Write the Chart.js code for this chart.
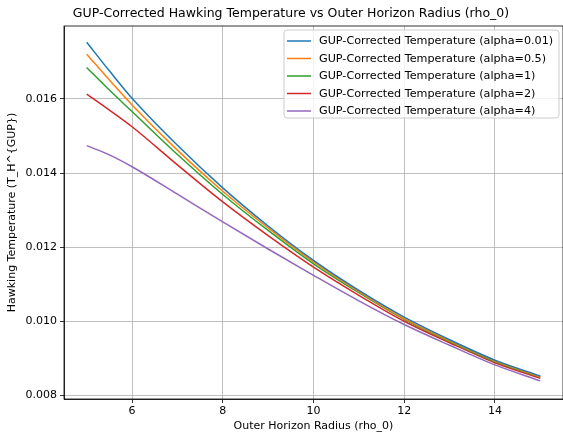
<!DOCTYPE html>
<html>
<head>
<meta charset="utf-8">
<script src="https://cdn.jsdelivr.net/npm/chart.js@4"></script>
<style>
  html, body { margin: 0; padding: 0; background: #fff; }
  #wrap { width: 563px; height: 434px; position: relative; }
</style>
</head>
<body>
<div id="wrap"><canvas id="chart"></canvas></div>
<script>
const radius = [5, 5.5, 6, 7, 8, 9, 10, 11, 12, 13, 14, 15]
const tempAlpha001 = [0.01753, 0.01676, 0.01602, 0.01475, 0.01360, 0.01257, 0.01164, 0.01083, 0.01011, 0.00950, 0.00895, 0.00852]
const tempAlpha05 = [0.01721, 0.01651, 0.01584, 0.01462, 0.01351, 0.01252, 0.01160, 0.01080, 0.01007, 0.00947, 0.00893, 0.00850]
const tempAlpha1 = [0.01685, 0.01624, 0.01566, 0.01450, 0.01342, 0.01245, 0.01155, 0.01077, 0.01005, 0.00945, 0.00891, 0.00849]
const tempAlpha2 = [0.01613, 0.01570, 0.01525, 0.01422, 0.01322, 0.01231, 0.01146, 0.01070, 0.01000, 0.00942, 0.00888, 0.00846]
const tempAlpha4 = [0.01474, 0.01449, 0.01417, 0.01343, 0.01268, 0.01195, 0.01124, 0.01055, 0.00991, 0.00935, 0.00882, 0.00839]
const xTicks = [6, 8, 10, 12, 14]
const yTicks = [0.008, 0.010, 0.012, 0.014, 0.016]

const seriesLabels = [
  "GUP-Corrected Temperature (alpha=0.01)",
  "GUP-Corrected Temperature (alpha=0.5)",
  "GUP-Corrected Temperature (alpha=1)",
  "GUP-Corrected Temperature (alpha=2)",
  "GUP-Corrected Temperature (alpha=4)"
]
const seriesValues = [tempAlpha001, tempAlpha05, tempAlpha1, tempAlpha2, tempAlpha4]
const colors = ["#1f77b4", "#ff7f0e", "#2ca02c", "#d62728", "#9467bd"]
const FONT = "DejaVu Sans"

// title, frame and legend box drawn like matplotlib
const decor = {
  id: "decor",
  afterDraw(chart) {
    const { ctx, chartArea: a } = chart
    ctx.save()
    ctx.strokeStyle = "#000"
    ctx.lineWidth = 0.8
    ctx.strokeRect(a.left, a.top, a.right - a.left, a.bottom - a.top)

    ctx.fillStyle = "#000"
    ctx.font = "12.5px '" + FONT + "'"
    ctx.textAlign = "center"
    ctx.textBaseline = "middle"
    ctx.fillText("GUP-Corrected Hawking Temperature vs Outer Horizon Radius (rho_0)", 291, 14)

    const bx = 284, by = 30, bw = 275, bh = 88
    ctx.beginPath()
    ctx.roundRect(bx, by, bw, bh, 3)
    ctx.fillStyle = "rgba(255,255,255,0.8)"
    ctx.fill()
    ctx.strokeStyle = "#cccccc"
    ctx.lineWidth = 1
    ctx.stroke()

    ctx.font = "11.2px '" + FONT + "'"
    ctx.textAlign = "left"
    chart.data.datasets.forEach((ds, i) => {
      const y = 41 + i * 17.5
      ctx.strokeStyle = ds.borderColor
      ctx.lineWidth = 1.5
      ctx.beginPath()
      ctx.moveTo(287, y)
      ctx.lineTo(311, y)
      ctx.stroke()
      ctx.fillStyle = "#000"
      ctx.fillText(ds.label, 319, y + 0.5)
    })
    ctx.restore()
  }
}

new Chart(document.getElementById("chart"), {
  type: "line",
  data: {
    datasets: seriesValues.map((vals, i) => ({
      label: seriesLabels[i],
      data: radius.map((r, j) => ({ x: r, y: vals[j] })),
      borderColor: colors[i],
      backgroundColor: colors[i],
      borderWidth: 1.5,
      pointRadius: 0,
      cubicInterpolationMode: "monotone",
      fill: false
    }))
  },
  options: {
    responsive: true,
    maintainAspectRatio: false,
    animation: false,
    layout: { padding: { top: 26, right: 0, left: 0, bottom: 0 } },
    plugins: {
      legend: { display: false },
      title: { display: false },
      tooltip: { enabled: false }
    },
    scales: {
      x: {
        type: "linear",
        min: 4.5,
        max: 15.5,
        afterBuildTicks: axis => { axis.ticks = xTicks.map(v => ({ value: v })) },
        afterFit: axis => { axis.height = 35 },
        grid: { color: "#b0b0b0", lineWidth: 0.8, tickColor: "#000", tickLength: 4 },
        border: { color: "#000", width: 0.8 },
        ticks: { color: "#000", font: { family: FONT, size: 11 }, padding: 2, maxRotation: 0 },
        title: { display: true, text: "Outer Horizon Radius (rho_0)", color: "#000", font: { family: FONT, size: 11 }, padding: { top: 0, bottom: 1 } }
      },
      y: {
        min: 0.0079,
        max: 0.01797,
        afterBuildTicks: axis => { axis.ticks = yTicks.map(v => ({ value: v })) },
        afterFit: axis => { axis.width = 64 },
        grid: { color: "#b0b0b0", lineWidth: 0.8, tickColor: "#000", tickLength: 4 },
        border: { color: "#000", width: 0.8 },
        ticks: { color: "#000", font: { family: FONT, size: 11 }, padding: 3, callback: v => v.toFixed(3) },
        title: { display: true, text: "Hawking Temperature (T_H^{GUP})", color: "#000", font: { family: FONT, size: 11 }, padding: { top: 6, bottom: 0 } }
      }
    }
  },
  plugins: [decor]
})
</script>
</body>
</html>
